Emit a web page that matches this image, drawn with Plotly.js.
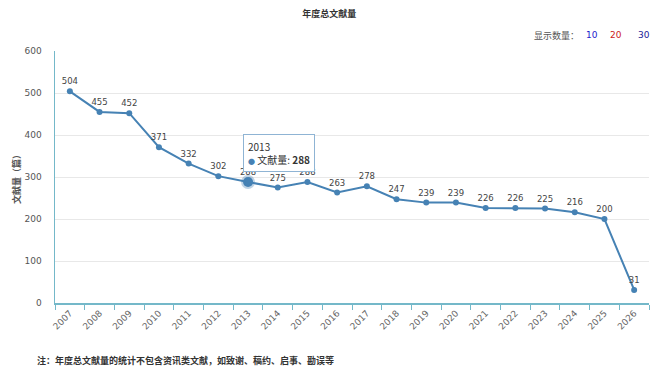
<!DOCTYPE html>
<html>
<head>
<meta charset="utf-8">
<script src="https://cdn.plot.ly/plotly-3.0.1.min.js"></script>
<style>
html,body{margin:0;padding:0;background:#fff;}
#chart{width:669px;height:373px;}
</style>
</head>
<body>
<div id="chart"></div>
<script>
const years = ['2007','2008','2009','2010','2011','2012','2013','2014','2015','2016','2017','2018','2019','2020','2021','2022','2023','2024','2025','2026'];
const counts = [504,455,452,371,332,302,288,275,288,263,278,247,239,239,226,226,225,216,200,31];
const seriesName = '文献量';
const highlightYear = '2013';
const chartTitle = '年度总文献量';
const yTitle = '文献量（篇）';
const note = '注：年度总文献量的统计不包含资讯类文献，如致谢、稿约、启事、勘误等';

const FONT = 'DejaVu Sans, Noto Sans CJK SC, sans-serif';
const CJK = 'Noto Sans CJK SC, sans-serif';
const lineColor = '#4682b4';
const axisColor = '#74b8c9';

const hi = years.indexOf(highlightYear);

const traces = [
  {
    x: years, y: counts, type: 'scatter', mode: 'lines+markers+text',
    name: seriesName,
    line: {color: lineColor, width: 2},
    marker: {color: lineColor, size: 6},
    text: counts.map(String), textposition: 'top center',
    textfont: {family: FONT, size: 8.5, color: '#444'},
    cliponaxis: false, hoverinfo: 'skip'
  },
  {
    x: [years[hi]], y: [counts[hi]], type: 'scatter', mode: 'markers',
    marker: {color: lineColor, size: 10, line: {color: 'rgba(70,130,180,0.35)', width: 4}},
    hoverinfo: 'skip', cliponaxis: false
  }
];

const tipText = highlightYear + '<br><span style="color:' + lineColor + ';font-size:7px">●</span> ' + seriesName + ': <b>' + counts[hi] + '</b>';

const layout = {
  width: 669, height: 373,
  margin: {l: 55, r: 20, t: 51, b: 70},
  paper_bgcolor: '#fff', plot_bgcolor: '#fff',
  showlegend: false,
  title: {text: '<b>' + chartTitle + '</b>', font: {family: CJK, size: 9, color: '#333'},
          x: 0.492, xanchor: 'center', y: 1 - 14/373, yanchor: 'middle', yref: 'container'},
  xaxis: {
    type: 'category', range: [-0.5, years.length - 0.5],
    showline: true, linecolor: axisColor, linewidth: 1.5,
    ticks: 'outside', tickson: 'boundaries', ticklen: 5, tickcolor: axisColor,
    tickangle: -45, tickfont: {family: FONT, size: 9, color: '#666'},
    showgrid: false, zeroline: false, fixedrange: true
  },
  yaxis: {
    range: [0, 600], dtick: 100,
    showline: true, linecolor: axisColor, linewidth: 1.5,
    showgrid: true, gridcolor: '#e8e8e8', gridwidth: 1,
    ticks: '', ticklabelstandoff: 10,
    tickfont: {family: FONT, size: 9, color: '#555'},
    zeroline: false, fixedrange: true,
    title: {text: '<b>' + yTitle + '</b>', font: {family: CJK, size: 9, color: '#555'}, standoff: 2}
  },
  annotations: [
    {xref: 'paper', yref: 'paper', x: (532-55)/594, y: (303-35)/252, xanchor: 'left', yanchor: 'middle',
     text: '显示数量：', showarrow: false, font: {family: CJK, size: 9, color: '#555'}},
    {xref: 'paper', yref: 'paper', x: (592-55)/594, y: (303-35)/252, xanchor: 'center', yanchor: 'middle',
     text: '10', showarrow: false, font: {family: FONT, size: 9, color: '#2222cc'}},
    {xref: 'paper', yref: 'paper', x: (616-55)/594, y: (303-35)/252, xanchor: 'center', yanchor: 'middle',
     text: '20', showarrow: false, font: {family: FONT, size: 9, color: '#cc1a1a'}},
    {xref: 'paper', yref: 'paper', x: (644-55)/594, y: (303-35)/252, xanchor: 'center', yanchor: 'middle',
     text: '30', showarrow: false, font: {family: FONT, size: 9, color: '#1a1a99'}},
    {xref: 'paper', yref: 'paper', x: (35-55)/594, y: (303-360)/252, xanchor: 'left', yanchor: 'middle',
     text: '<b>' + note + '</b>', showarrow: false, font: {family: CJK, size: 9, color: '#333'}},
    {xref: 'paper', yref: 'paper', x: (243-55)/594, y: (303-153)/252,
     showarrow: false,
     xanchor: 'left', yanchor: 'middle', align: 'left',
     text: tipText,
     font: {family: CJK, size: 10, color: '#333'},
     bgcolor: '#ffffff', bordercolor: '#8fb4d4', borderwidth: 1, borderpad: 4}
  ]
};

Plotly.newPlot('chart', traces, layout, {displayModeBar: false, staticPlot: true});
</script>
</body>
</html>
